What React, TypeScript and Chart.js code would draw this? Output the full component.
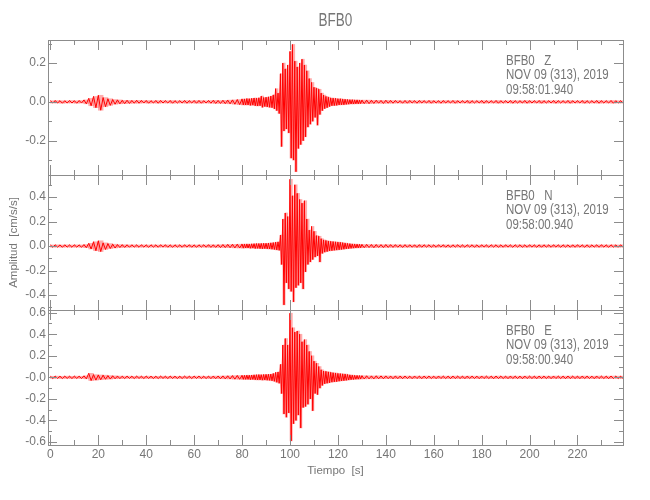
import React, { useEffect, useRef } from "react";
import { Chart, registerables } from "chart.js";

Chart.register(...registerables);

// Sample-bin times (s)
const TIMES: number[] = [
  0, 2, 4, 6, 8, 10, 12, 14, 16, 18,
  20, 22, 24, 26, 28, 30, 32, 34, 36, 38,
  40, 42, 44, 46, 48, 50, 52, 54, 56, 58,
  60, 62, 64, 66, 68, 70, 72, 74, 76, 78,
  80,
  81, 82, 83, 84, 85, 86, 87, 88, 89, 90,
  91, 92, 93, 94, 95, 96, 97, 98, 99, 100,
  101, 102, 103, 104, 105, 106, 107, 108, 109, 110,
  111, 112, 113, 114, 115, 116, 117, 118, 119, 120,
  121, 122, 123, 124, 125, 126, 127, 128, 129, 130,
  132, 134, 136, 138, 140, 142, 144, 146, 148, 150,
  152, 154, 156, 158, 160, 162, 164, 166, 168, 170,
  172, 174, 176, 178, 180, 182, 184, 186, 188, 190,
  192, 194, 196, 198, 200, 202, 204, 206, 208, 210,
  212, 214, 216, 218, 220, 222, 224, 226, 228, 230,
  232, 234, 236, 238,
];

// Component Z: upper / lower envelope per bin (cm/s/s)
const Z_HI: number[] = [
  0.006, 0.007, 0.006, 0.006, 0.007, 0.006, 0.007, 0.010, 0.018, 0.028,
  0.034, 0.022, 0.016, 0.012, 0.010, 0.008, 0.008, 0.007, 0.008, 0.007,
  0.007, 0.006, 0.007, 0.007, 0.006, 0.007, 0.006, 0.006, 0.007, 0.006,
  0.007, 0.007, 0.006, 0.007, 0.008, 0.007, 0.008, 0.009, 0.010, 0.012,
  0.015,
  0.015, 0.017, 0.016, 0.018, 0.020, 0.019, 0.021, 0.030, 0.022, 0.024,
  0.026, 0.030, 0.036, 0.068, 0.045, 0.145, 0.200, 0.170, 0.190, 0.260,
  0.296, 0.210, 0.180, 0.200, 0.220, 0.190, 0.160, 0.120, 0.100, 0.075,
  0.070, 0.065, 0.045, 0.035, 0.028, 0.024, 0.020, 0.019, 0.018, 0.016,
  0.016, 0.014, 0.013, 0.012, 0.011, 0.011, 0.010, 0.010, 0.009, 0.009,
  0.009, 0.008, 0.008, 0.007, 0.008, 0.007, 0.007, 0.006, 0.007, 0.007,
  0.006, 0.007, 0.006, 0.007, 0.006, 0.006, 0.007, 0.006, 0.007, 0.006,
  0.006, 0.007, 0.006, 0.006, 0.007, 0.006, 0.006, 0.007, 0.006, 0.006,
  0.007, 0.006, 0.006, 0.007, 0.006, 0.006, 0.007, 0.006, 0.006, 0.007,
  0.006, 0.006, 0.007, 0.006, 0.006, 0.007, 0.006, 0.006, 0.007, 0.006,
  0.006, 0.007, 0.006, 0.006,
];
const Z_LO: number[] = [
  -0.006, -0.006, -0.007, -0.006, -0.006, -0.007, -0.006, -0.010, -0.020, -0.030,
  -0.043, -0.025, -0.018, -0.012, -0.010, -0.009, -0.008, -0.007, -0.007, -0.006,
  -0.007, -0.006, -0.007, -0.006, -0.006, -0.007, -0.006, -0.006, -0.007, -0.006,
  -0.007, -0.007, -0.006, -0.007, -0.008, -0.008, -0.009, -0.010, -0.012, -0.014,
  -0.016,
  -0.016, -0.016, -0.018, -0.017, -0.020, -0.021, -0.020, -0.028, -0.024, -0.026,
  -0.028, -0.030, -0.036, -0.045, -0.060, -0.230, -0.150, -0.140, -0.160, -0.290,
  -0.300, -0.360, -0.240, -0.220, -0.200, -0.180, -0.130, -0.115, -0.100, -0.080,
  -0.120, -0.065, -0.045, -0.035, -0.030, -0.024, -0.020, -0.019, -0.018, -0.016,
  -0.015, -0.015, -0.013, -0.012, -0.011, -0.011, -0.010, -0.010, -0.009, -0.009,
  -0.009, -0.008, -0.007, -0.008, -0.007, -0.007, -0.006, -0.007, -0.007, -0.006,
  -0.007, -0.006, -0.006, -0.007, -0.006, -0.007, -0.006, -0.006, -0.007, -0.006,
  -0.006, -0.007, -0.006, -0.006, -0.007, -0.006, -0.006, -0.007, -0.006, -0.006,
  -0.007, -0.006, -0.006, -0.007, -0.006, -0.006, -0.007, -0.006, -0.006, -0.007,
  -0.006, -0.006, -0.007, -0.006, -0.006, -0.007, -0.006, -0.006, -0.007, -0.006,
  -0.006, -0.007, -0.006, -0.006,
];

// Component N
const N_HI: number[] = [
  0.009, 0.010, 0.009, 0.010, 0.009, 0.010, 0.009, 0.012, 0.022, 0.035,
  0.043, 0.026, 0.020, 0.015, 0.012, 0.011, 0.010, 0.010, 0.009, 0.010,
  0.009, 0.010, 0.009, 0.010, 0.010, 0.009, 0.010, 0.009, 0.010, 0.010,
  0.009, 0.010, 0.010, 0.011, 0.010, 0.011, 0.012, 0.013, 0.014, 0.015,
  0.016,
  0.016, 0.017, 0.016, 0.018, 0.019, 0.020, 0.020, 0.021, 0.022, 0.022,
  0.024, 0.026, 0.028, 0.032, 0.034, 0.090, 0.220, 0.270, 0.240, 0.545,
  0.410, 0.500, 0.430, 0.380, 0.350, 0.370, 0.220, 0.130, 0.160, 0.120,
  0.085, 0.080, 0.060, 0.050, 0.045, 0.040, 0.038, 0.036, 0.034, 0.032,
  0.030, 0.027, 0.024, 0.021, 0.019, 0.017, 0.016, 0.015, 0.014, 0.013,
  0.013, 0.012, 0.012, 0.011, 0.012, 0.011, 0.011, 0.010, 0.011, 0.010,
  0.010, 0.011, 0.010, 0.010, 0.009, 0.010, 0.010, 0.009, 0.010, 0.010,
  0.009, 0.010, 0.010, 0.009, 0.010, 0.009, 0.010, 0.010, 0.009, 0.010,
  0.009, 0.010, 0.010, 0.009, 0.010, 0.009, 0.010, 0.010, 0.009, 0.010,
  0.009, 0.010, 0.009, 0.010, 0.010, 0.009, 0.010, 0.009, 0.010, 0.010,
  0.009, 0.010, 0.009, 0.010,
];
const N_LO: number[] = [
  -0.010, -0.009, -0.010, -0.009, -0.010, -0.009, -0.010, -0.013, -0.024, -0.038,
  -0.045, -0.028, -0.020, -0.016, -0.012, -0.011, -0.010, -0.009, -0.010, -0.009,
  -0.010, -0.009, -0.010, -0.009, -0.010, -0.010, -0.009, -0.010, -0.009, -0.010,
  -0.010, -0.009, -0.010, -0.011, -0.011, -0.012, -0.012, -0.013, -0.015, -0.016,
  -0.017,
  -0.016, -0.016, -0.018, -0.017, -0.020, -0.019, -0.021, -0.022, -0.021, -0.023,
  -0.024, -0.026, -0.028, -0.032, -0.035, -0.150, -0.480, -0.300, -0.350, -0.370,
  -0.455, -0.340, -0.320, -0.300, -0.350, -0.210, -0.150, -0.130, -0.110, -0.090,
  -0.080, -0.130, -0.060, -0.050, -0.045, -0.040, -0.038, -0.035, -0.033, -0.031,
  -0.028, -0.026, -0.023, -0.021, -0.019, -0.017, -0.016, -0.015, -0.014, -0.013,
  -0.012, -0.013, -0.011, -0.012, -0.011, -0.011, -0.010, -0.011, -0.010, -0.010,
  -0.011, -0.010, -0.009, -0.010, -0.010, -0.009, -0.010, -0.010, -0.009, -0.010,
  -0.010, -0.009, -0.010, -0.010, -0.009, -0.010, -0.009, -0.010, -0.010, -0.009,
  -0.010, -0.009, -0.010, -0.010, -0.009, -0.010, -0.010, -0.009, -0.010, -0.009,
  -0.010, -0.009, -0.010, -0.010, -0.009, -0.010, -0.010, -0.009, -0.010, -0.009,
  -0.010, -0.009, -0.010, -0.009,
];

// Component E
const E_HI: number[] = [
  0.010, 0.011, 0.010, 0.011, 0.010, 0.011, 0.010, 0.014, 0.037, 0.025,
  0.022, 0.020, 0.016, 0.014, 0.012, 0.011, 0.011, 0.010, 0.011, 0.010,
  0.011, 0.010, 0.010, 0.011, 0.010, 0.011, 0.010, 0.010, 0.011, 0.010,
  0.011, 0.011, 0.010, 0.011, 0.012, 0.012, 0.013, 0.014, 0.016, 0.017,
  0.018,
  0.018, 0.020, 0.019, 0.021, 0.023, 0.024, 0.025, 0.024, 0.026, 0.027,
  0.028, 0.030, 0.036, 0.046, 0.050, 0.120, 0.300, 0.360, 0.300, 0.595,
  0.460, 0.420, 0.430, 0.400, 0.330, 0.350, 0.300, 0.240, 0.200, 0.150,
  0.130, 0.100, 0.070, 0.058, 0.055, 0.050, 0.046, 0.042, 0.040, 0.036,
  0.034, 0.032, 0.030, 0.026, 0.022, 0.020, 0.018, 0.017, 0.016, 0.015,
  0.014, 0.013, 0.014, 0.013, 0.013, 0.012, 0.013, 0.012, 0.012, 0.011,
  0.012, 0.011, 0.012, 0.011, 0.011, 0.012, 0.011, 0.011, 0.012, 0.011,
  0.011, 0.012, 0.011, 0.011, 0.012, 0.011, 0.011, 0.012, 0.011, 0.011,
  0.012, 0.011, 0.011, 0.012, 0.011, 0.011, 0.012, 0.011, 0.011, 0.012,
  0.011, 0.011, 0.012, 0.011, 0.011, 0.012, 0.011, 0.011, 0.012, 0.011,
  0.011, 0.012, 0.011, 0.011,
];
const E_LO: number[] = [
  -0.011, -0.010, -0.011, -0.010, -0.011, -0.010, -0.011, -0.014, -0.030, -0.026,
  -0.022, -0.018, -0.016, -0.013, -0.012, -0.011, -0.010, -0.011, -0.010, -0.011,
  -0.010, -0.011, -0.011, -0.010, -0.011, -0.010, -0.011, -0.011, -0.010, -0.011,
  -0.010, -0.011, -0.011, -0.012, -0.012, -0.013, -0.014, -0.015, -0.017, -0.018,
  -0.019,
  -0.019, -0.019, -0.021, -0.020, -0.023, -0.024, -0.024, -0.026, -0.025, -0.027,
  -0.028, -0.032, -0.037, -0.046, -0.055, -0.150, -0.340, -0.370, -0.330, -0.590,
  -0.430, -0.400, -0.350, -0.470, -0.280, -0.270, -0.250, -0.200, -0.310, -0.150,
  -0.160, -0.100, -0.075, -0.060, -0.055, -0.050, -0.045, -0.042, -0.040, -0.036,
  -0.033, -0.031, -0.028, -0.025, -0.022, -0.020, -0.018, -0.017, -0.016, -0.015,
  -0.014, -0.014, -0.013, -0.013, -0.012, -0.013, -0.012, -0.012, -0.011, -0.012,
  -0.011, -0.012, -0.011, -0.011, -0.012, -0.011, -0.011, -0.012, -0.011, -0.011,
  -0.012, -0.011, -0.011, -0.012, -0.011, -0.011, -0.012, -0.011, -0.011, -0.012,
  -0.011, -0.011, -0.012, -0.011, -0.011, -0.012, -0.011, -0.011, -0.012, -0.011,
  -0.011, -0.012, -0.011, -0.011, -0.012, -0.011, -0.011, -0.012, -0.011, -0.011,
  -0.012, -0.011, -0.011, -0.012,
];

const X_MIN = -1;
const X_MAX = 239;
const X_TICKS: number[] = [0, 20, 40, 60, 80, 100, 120, 140, 160, 180, 200, 220];

const Z_RANGE: number[] = [-0.377, 0.319];
const N_RANGE: number[] = [-0.522, 0.58];
const E_RANGE: number[] = [-0.628, 0.625];

const Z_TICKS: number[] = [-0.2, 0, 0.2];
const Z_TICK_LABELS: string[] = ["-0.2", "0.0", "0.2"];
const N_TICKS: number[] = [-0.4, -0.2, 0, 0.2, 0.4];
const N_TICK_LABELS: string[] = ["-0.4", "-0.2", "0.0", "0.2", "0.4"];
const E_TICKS: number[] = [-0.6, -0.4, -0.2, 0, 0.2, 0.4, 0.6];
const E_TICK_LABELS: string[] = ["-0.6", "-0.4", "-0.2", "-0.0", "0.2", "0.4", "0.6"];

const TITLE = "BFB0";
const X_TITLE = "Tiempo  [s]";
const Y_TITLE = "Amplitud  [cm/s/s]";
const PANEL_TEXT: string[][] = [
  ["BFB0   Z", "NOV 09 (313), 2019", "09:58:01.940"],
  ["BFB0   N", "NOV 09 (313), 2019", "09:58:00.940"],
  ["BFB0   E", "NOV 09 (313), 2019", "09:58:00.940"],
];

const FONT = '"Liberation Sans", Arial, sans-serif';
const TEXT_COLOR = "#767676";
const AXIS_COLOR = "#8c8c8c";
const TRACE_COLOR = "#ff0000";
const BAND_COLOR = "rgba(255, 40, 40, 0.38)";

function buildTrace(hi: number[], lo: number[]) {
  const n = Math.min(TIMES.length, hi.length, lo.length);
  const pts: { x: number; y: number }[] = [];
  for (let i = 0; i < n; i++) {
    const next = i < TIMES.length - 1 ? TIMES[i + 1] : TIMES[i] + (TIMES[i] - TIMES[i - 1]);
    const half = (next - TIMES[i]) / 2;
    pts.push({ x: TIMES[i], y: hi[i] });
    pts.push({ x: TIMES[i] + half, y: lo[i] });
  }
  return pts;
}

function buildBand(hi: number[], lo: number[]) {
  const n = Math.min(TIMES.length, hi.length, lo.length);
  const bars: { x: number; y: number[] }[] = [];
  for (let i = 0; i < n; i++) {
    const next = i < TIMES.length - 1 ? TIMES[i + 1] : TIMES[i] + (TIMES[i] - TIMES[i - 1]);
    const half = (next - TIMES[i]) / 2;
    bars.push({ x: TIMES[i] + half, y: [lo[i], hi[i]] });
  }
  return bars;
}

function drawNarrow(ctx: CanvasRenderingContext2D, text: string, x: number, y: number, size: number, squeeze: number, align: "left" | "center") {
  ctx.save();
  ctx.font = `${size}px ${FONT}`;
  ctx.textBaseline = "middle";
  ctx.textAlign = align;
  ctx.translate(x, y);
  ctx.scale(squeeze, 1);
  ctx.fillText(text, 0, 0);
  ctx.restore();
}

const framePlugin = {
  id: "seisFrame",
  afterDatasetsDraw(chart: any) {
    const ctx: CanvasRenderingContext2D = chart.ctx;
    const xs = chart.scales.x;
    const left = Math.round(chart.chartArea.left);
    const right = Math.round(chart.chartArea.right);
    ctx.save();
    ctx.strokeStyle = AXIS_COLOR;
    ctx.lineWidth = 1;
    const seg = (x1: number, y1: number, x2: number, y2: number) => {
      ctx.beginPath();
      ctx.moveTo(x1, y1);
      ctx.lineTo(x2, y2);
      ctx.stroke();
    };
    const ids = ["yZ", "yN", "yE"];
    ids.forEach((id, idx) => {
      const s = chart.scales[id];
      const top = Math.round(s.top);
      const bottom = Math.round(s.bottom);
      ctx.strokeRect(left + 0.5, top + 0.5, right - left, bottom - top);
      for (let v = 0; v <= 230; v += 10) {
        const px = Math.round(xs.getPixelForValue(v)) + 0.5;
        const len = v % 20 === 0 ? 10 : 5;
        seg(px, top, px, top + len);
        seg(px, bottom, px, bottom - len);
      }
      const k0 = Math.ceil(s.min * 10 - 1e-6);
      const k1 = Math.floor(s.max * 10 + 1e-6);
      for (let k = k0; k <= k1; k++) {
        const py = Math.round(s.getPixelForValue(k / 10)) + 0.5;
        const len = k % 2 === 0 ? 9 : 4;
        seg(left, py, left + len, py);
        seg(right, py, right - len, py);
      }
      ctx.fillStyle = TEXT_COLOR;
      const lines = PANEL_TEXT[idx];
      const offs = [21, 35.5, 50.5];
      lines.forEach((t, j) => drawNarrow(ctx, t, 506, top + offs[j], 14, 0.82, "left"));
    });
    ctx.fillStyle = TEXT_COLOR;
    drawNarrow(ctx, TITLE, (left + right) / 2, 21.5, 18, 0.75, "center");
    ctx.restore();
  },
};

function yAxis(range: number[], ticks: number[], labels: string[], weight: number, withTitle: boolean) {
  return {
    type: "linear",
    position: "left",
    stack: "panels",
    stackWeight: 1,
    stacked: false,
    weight,
    min: range[0],
    max: range[1],
    grid: { display: false, drawTicks: false },
    border: { display: false },
    afterBuildTicks: (s: any) => {
      s.ticks = ticks.map((v) => ({ value: v }));
    },
    afterFit: (s: any) => {
      s.width = 48;
    },
    ticks: {
      autoSkip: false,
      padding: 2,
      color: TEXT_COLOR,
      font: { family: FONT, size: 12 },
      callback: (v: number) => {
        const i = ticks.findIndex((t) => Math.abs(t - v) < 1e-9);
        return i >= 0 ? labels[i] : "";
      },
    },
    title: {
      display: withTitle,
      text: Y_TITLE,
      color: TEXT_COLOR,
      font: { family: FONT, size: 11.5 },
      padding: { top: 7, bottom: 0 },
    },
  };
}

export default function App() {
  const ref = useRef<HTMLCanvasElement | null>(null);

  useEffect(() => {
    if (!ref.current) return;
    const panels = [
      { hi: Z_HI, lo: Z_LO, axis: "yZ" },
      { hi: N_HI, lo: N_LO, axis: "yN" },
      { hi: E_HI, lo: E_LO, axis: "yE" },
    ];
    const datasets: any[] = [];
    panels.forEach((p) => {
      datasets.push({
        type: "line",
        data: buildTrace(p.hi, p.lo),
        yAxisID: p.axis,
        xAxisID: "x",
        borderColor: TRACE_COLOR,
        borderWidth: 1,
        pointRadius: 0,
        tension: 0,
        fill: false,
        order: 0,
      });
      datasets.push({
        type: "bar",
        data: buildBand(p.hi, p.lo),
        yAxisID: p.axis,
        xAxisID: "x",
        stack: "band",
        backgroundColor: BAND_COLOR,
        borderWidth: 0,
        barPercentage: 1,
        categoryPercentage: 1,
        barThickness: "flex",
        order: 1,
      });
    });
    const chart = new Chart(ref.current, {
      type: "line",
      data: { datasets },
      options: {
        animation: false,
        responsive: false,
        events: [],
        layout: { padding: { top: 40, right: 27, left: 0, bottom: 0 } },
        plugins: {
          legend: { display: false },
          tooltip: { enabled: false },
          title: { display: false },
        },
        scales: {
          x: {
            type: "linear",
            position: "bottom",
            min: X_MIN,
            max: X_MAX,
            offset: false,
            grid: { display: false, drawTicks: false, offset: false },
            border: { display: false },
            afterBuildTicks: (s: any) => {
              s.ticks = X_TICKS.map((v) => ({ value: v }));
            },
            afterFit: (s: any) => {
              s.height = 55;
            },
            ticks: {
              autoSkip: false,
              maxRotation: 0,
              padding: 2,
              color: TEXT_COLOR,
              font: { family: FONT, size: 12 },
              callback: (v: number) => String(v),
            },
            title: {
              display: true,
              text: X_TITLE,
              color: TEXT_COLOR,
              font: { family: FONT, size: 11.5 },
              padding: { top: 0, bottom: 22 },
            },
          },
          yZ: yAxis(Z_RANGE, Z_TICKS, Z_TICK_LABELS, 3, false),
          yN: yAxis(N_RANGE, N_TICKS, N_TICK_LABELS, 2, true),
          yE: yAxis(E_RANGE, E_TICKS, E_TICK_LABELS, 1, false),
        } as any,
      },
      plugins: [framePlugin],
    } as any);
    return () => chart.destroy();
  }, []);

  return (
    <div style={{ position: "absolute", left: 0, top: 0, width: 650, height: 500, background: "#ffffff" }}>
      <canvas ref={ref} width={650} height={500} style={{ display: "block" }} />
    </div>
  );
}
